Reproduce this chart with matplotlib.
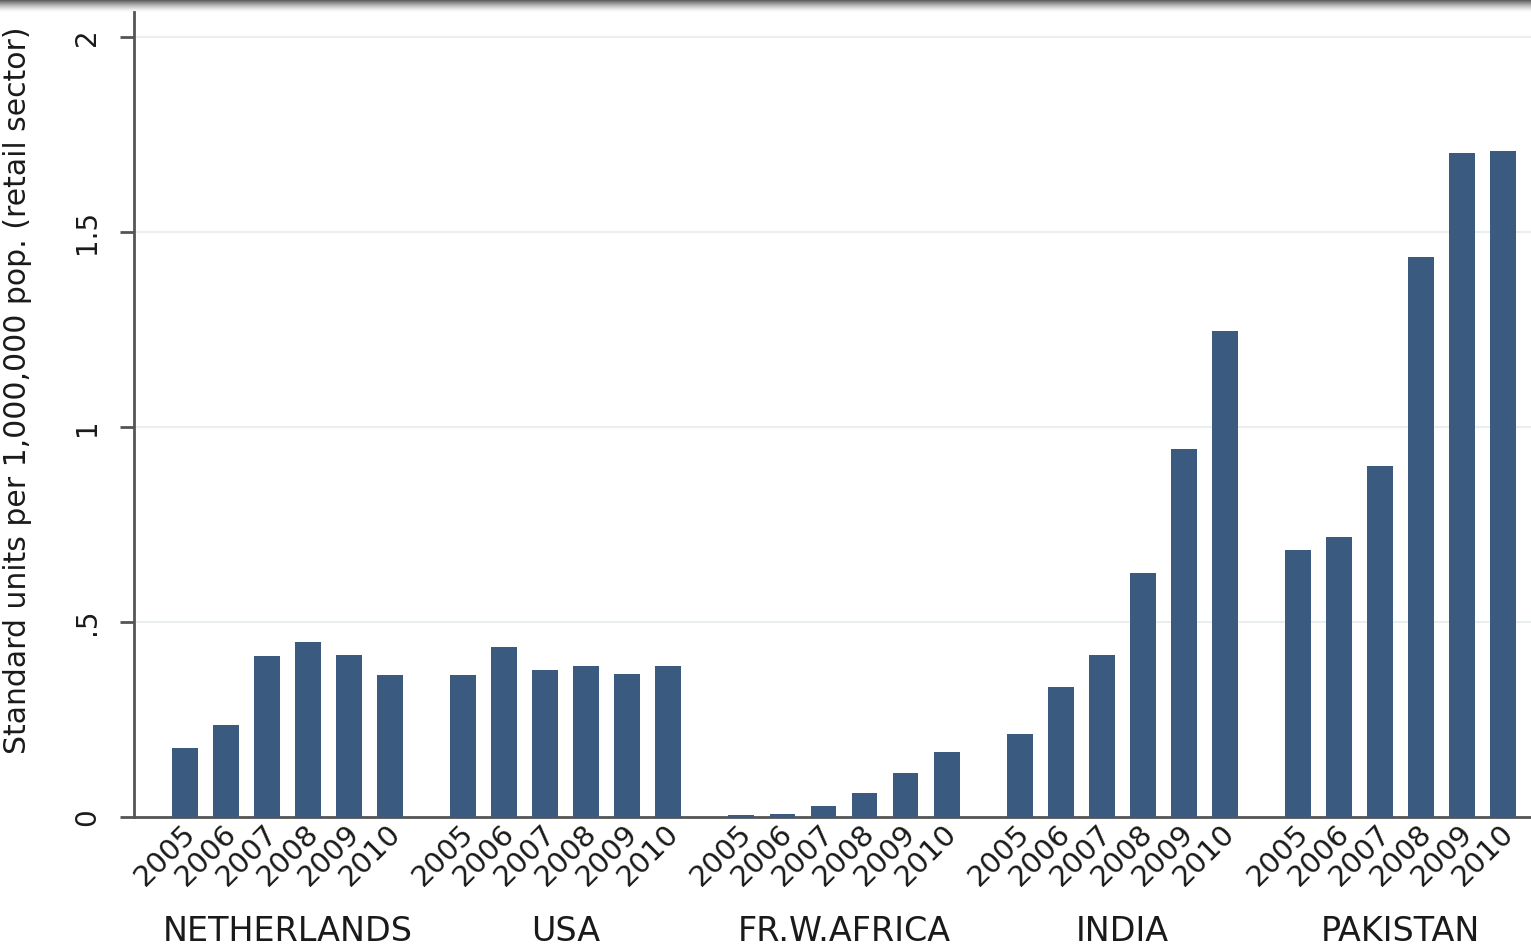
import matplotlib.pyplot as plt
import matplotlib.transforms as mtransforms
import numpy as np

# --- Data ---
countries = ["NETHERLANDS", "USA", "FR.W.AFRICA", "INDIA", "PAKISTAN"]
years = ["2005", "2006", "2007", "2008", "2009", "2010"]

netherlands = [0.177, 0.236, 0.413, 0.449, 0.415, 0.364]
usa = [0.364, 0.436, 0.377, 0.387, 0.367, 0.387]
fr_w_africa = [0.004, 0.007, 0.028, 0.062, 0.113, 0.167]
india = [0.213, 0.333, 0.415, 0.626, 0.944, 1.246]
pakistan = [0.685, 0.718, 0.900, 1.436, 1.703, 1.708]

yticks = [0, 0.5, 1, 1.5, 2]
ytick_labels = ["0", ".5", "1", "1.5", "2"]

BAR_COLOR = "#3a5a80"
GRID_COLOR = "#e9eff1"
AXIS_COLOR = "#555555"
TEXT_COLOR = "#1a1a1a"

series = [netherlands, usa, fr_w_africa, india, pakistan]
group_step = 6.78

fig = plt.figure(figsize=(15.31, 9.46), dpi=100)
ax = fig.add_axes([134 / 1531, 129 / 946, 1 - 134 / 1531, 805 / 946])

xpos_all, labels_all = [], []
for g, vals in enumerate(series):
    xs = g * group_step + np.arange(len(vals))
    ax.bar(xs, vals, width=0.63, color=BAR_COLOR, zorder=3)
    xpos_all.extend(xs)
    labels_all.extend(years)
    ax.text(g * group_step + 2.5, -0.142, countries[g],
            transform=ax.get_xaxis_transform(), ha="center", va="center",
            fontsize=24, color=TEXT_COLOR)

ax.set_xlim(-1.24, 32.8)
ax.set_ylim(0, 2.064)

ax.set_xticks(xpos_all)
ax.set_xticklabels(labels_all, rotation=45, ha="right", va="center",
                   rotation_mode="anchor", fontsize=21, color=TEXT_COLOR)
ax.tick_params(axis="x", length=0, pad=9)
# nudge the year labels a little to the right, like the original
shift = mtransforms.ScaledTranslation(6 / 100, 0, fig.dpi_scale_trans)
for lab in ax.get_xticklabels():
    lab.set_transform(lab.get_transform() + shift)

ax.set_yticks(yticks)
ax.set_yticklabels(ytick_labels, rotation=90, va="center", fontsize=20,
                   color=TEXT_COLOR)
ax.tick_params(axis="y", length=10, width=2, color=AXIS_COLOR, pad=14)

ax.grid(axis="y", color=GRID_COLOR, linewidth=1.5, zorder=0)
ax.set_axisbelow(True)

for side in ["top", "right"]:
    ax.spines[side].set_visible(False)
for side in ["left", "bottom"]:
    ax.spines[side].set_color(AXIS_COLOR)
    ax.spines[side].set_linewidth(2)

ax.set_ylabel("Standard units per 1,000,000 pop. (retail sector)",
              fontsize=21.5, color=TEXT_COLOR)
ax.yaxis.set_label_coords(-0.073, 0.53)

# shadow band along the top edge
for i in range(12):
    fig.add_artist(plt.Rectangle((0, 1 - (i + 1) / 946), 1, 1 / 946,
                                 transform=fig.transFigure,
                                 color="#444444", alpha=0.85 * (1 - i / 12) ** 1.5,
                                 linewidth=0))

fig.savefig("out.png", dpi=100)
